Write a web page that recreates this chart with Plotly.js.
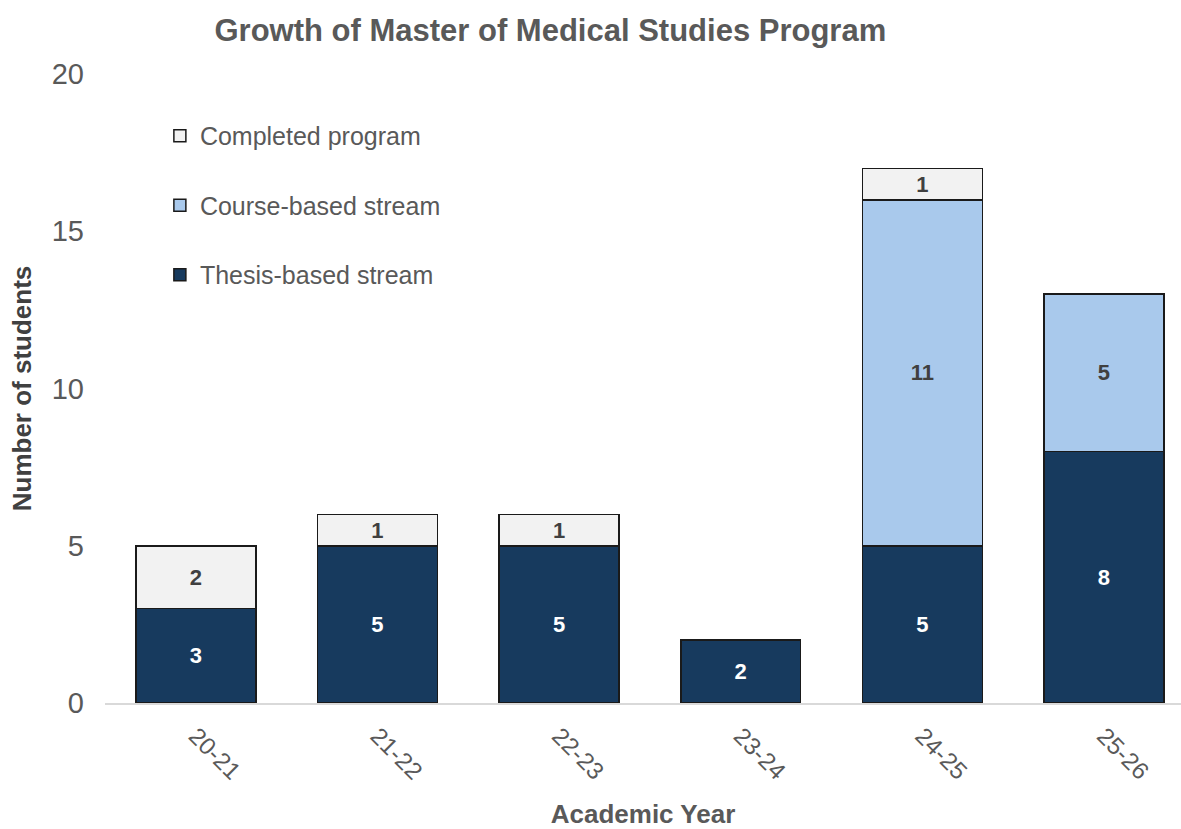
<!DOCTYPE html>
<html>
<head>
<meta charset="utf-8">
<script src="https://cdn.plot.ly/plotly-3.0.1.min.js"></script>
<style>html,body{margin:0;padding:0;background:#fff;}#chart{width:1181px;height:829px;}</style>
</head>
<body>
<div id="chart"></div>
<script>
const years = ["20-21", "21-22", "22-23", "23-24", "24-25", "25-26"];
const thesis = [3, 5, 5, 2, 5, 8];
const course = [0, 0, 0, 0, 11, 5];
const completed = [2, 1, 1, 0, 1, 0];
const seriesNames = ["Thesis-based stream", "Course-based stream", "Completed program"];
const yTicks = [0, 5, 10, 15, 20];

const colors = ["#173a5e", "#a9c9ec", "#f2f2f2"];
const labelColors = ["#ffffff", "#404040", "#404040"];
const legendRanks = [3, 2, 1];
const font = "Liberation Sans, Arial, sans-serif";

function txt(arr) { return arr.map(v => v > 0 ? String(v) : ""); }

const data = [thesis, course, completed].map((vals, i) => ({
  type: "bar",
  name: seriesNames[i],
  x: years,
  y: vals,
  text: txt(vals),
  textposition: "inside",
  insidetextanchor: "middle",
  textangle: 0,
  textfont: {family: font, size: 22, color: labelColors[i], weight: "bold"},
  marker: {color: colors[i], line: {color: "#1a1a1a", width: 1.5}},
  legendgroup: "g" + i,
  legendrank: legendRanks[i],
  hoverinfo: "x+y+name"
}));

const layout = {
  width: 1181, height: 829,
  paper_bgcolor: "#ffffff", plot_bgcolor: "#ffffff",
  barmode: "stack",
  bargap: 0.34,
  margin: {l: 105, r: 0, t: 74, b: 126},
  font: {family: font, color: "#595959"},
  title: {
    text: "<b>Growth of Master of Medical Studies Program</b>",
    font: {family: font, size: 31, color: "#595959"},
    x: 0.466, xanchor: "center", y: 0.964, yanchor: "middle"
  },
  xaxis: {
    range: [-0.5, 5.424],
    tickangle: 45,
    tickfont: {family: font, size: 24, color: "#595959"},
    ticklabelstandoff: 8,
    showline: true, linecolor: "#d9d9d9", linewidth: 1.5,
    ticks: "", showgrid: false,
    title: {text: "<b>Academic Year</b>", font: {family: font, size: 26, color: "#595959"}, standoff: 22}
  },
  yaxis: {
    range: [0, 20],
    tickvals: yTicks,
    tickfont: {family: font, size: 29, color: "#595959"},
    ticklabelstandoff: 20,
    showgrid: false, zeroline: false, showline: false, ticks: "",
    title: {text: "<b>Number of students</b>", font: {family: font, size: 26, color: "#404040"}, standoff: 12}
  },
  showlegend: true,
  legend: {
    x: 0.051, xanchor: "left", y: 0.938, yanchor: "top",
    traceorder: "grouped",
    tracegroupgap: 34,
    font: {family: font, size: 25, color: "#595959"},
    bgcolor: "rgba(0,0,0,0)"
  }
};

Plotly.newPlot("chart", data, layout, {displayModeBar: false, staticPlot: true});
</script>
</body>
</html>
